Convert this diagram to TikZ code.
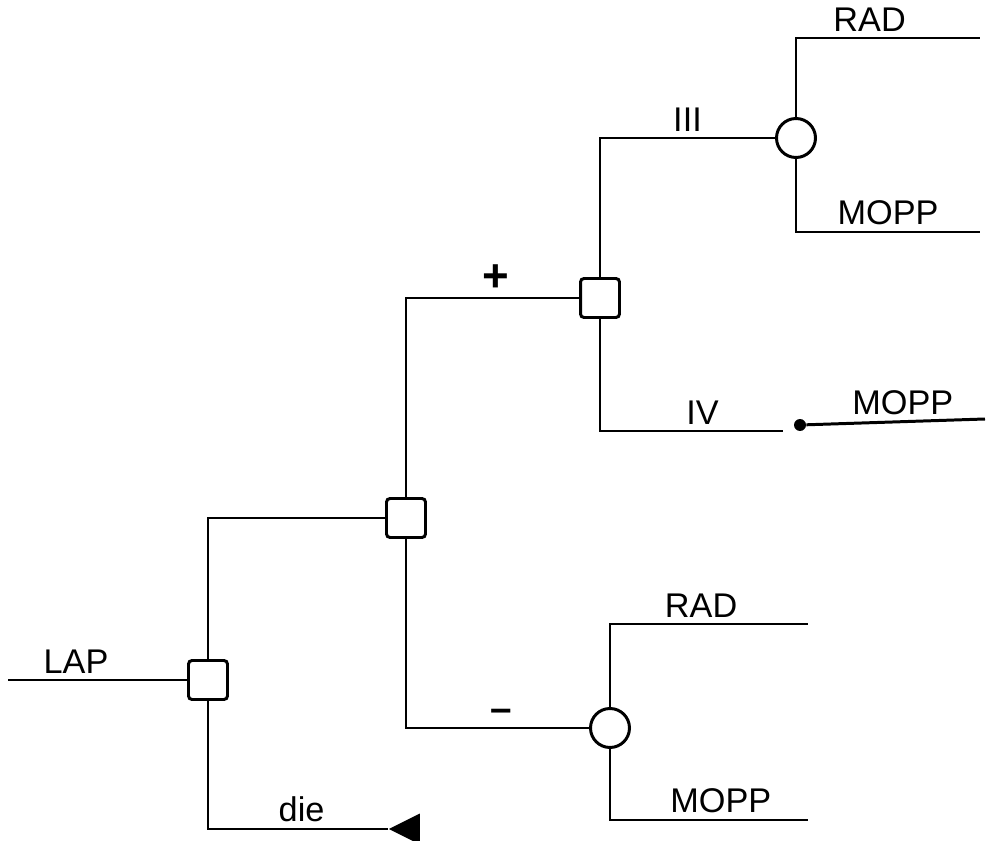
\documentclass[tikz,border=0pt]{standalone}
\usepackage{fontspec}
\setmainfont{Liberation Sans}
\usetikzlibrary{shapes.geometric}
\tikzset{
  dec/.style={draw, rectangle, rounded corners=2pt, minimum size=0.78cm, inner sep=0pt,
              line width=1.7pt, fill=white},
  chance/.style={draw, circle, minimum size=0.78cm, inner sep=0pt, line width=1.7pt, fill=white},
  term/.style={isosceles triangle, shape border rotate=180, isosceles triangle stretches,
               fill=black, inner sep=0pt, minimum width=0.62cm, minimum height=0.62cm},
  blob/.style={circle, fill=black, inner sep=0pt, minimum size=0.24cm},
  lbl/.style={font=\fontsize{19.5}{22}\selectfont, inner sep=3pt, above},
  br/.style={line width=1.7pt},
}
\begin{document}
\begin{tikzpicture}[x=0.02cm, y=-0.02cm]
  \useasboundingbox (0,0) rectangle (995,841);
  \node[dec] (d1) at (208,680) {};
  \node[dec] (d2) at (406,518) {};
  \node[dec] (d3) at (600,298) {};
  \node[chance] (c1) at (796,138) {};
  \node[chance] (c2) at (610,728) {};
  \node[term, anchor=apex] (t1) at (388,829) {};
  \node[blob] (b1) at (800,425) {};
  \coordinate (lap) at (8,680);
  \coordinate (r1) at (980,38);
  \coordinate (m1) at (980,232);
  \coordinate (iv) at (783,431);
  \coordinate (m2) at (985,419);
  \coordinate (r2) at (808,624);
  \coordinate (m3) at (808,820);

  \draw[br] (lap) -- node[lbl, pos=0.38] {LAP} (d1);
  \draw[br] (d1) |- (d2);
  \draw[br] (d1) |- node[lbl, pos=0.76] {die} (t1);
  \draw[br] (d2) |- node[lbl, pos=0.76, font=\fontsize{26}{28}\selectfont\bfseries] {+} (d3);
  \draw[br] (d2) |- node[lbl, pos=0.76, font=\fontsize{22}{24}\selectfont\bfseries] {--} (c2);
  \draw[br] (d3) |- node[lbl, pos=0.75] {III} (c1);
  \draw[br] (d3) |- node[lbl, pos=0.78] {IV} (iv);
  \draw[br] (b1) -- node[lbl, pos=0.54] {MOPP} (m2);
  \draw[br] (c1) |- node[lbl, pos=0.7] {RAD} (r1);
  \draw[br] (c1) |- node[lbl, pos=0.75] {MOPP} (m1);
  \draw[br] (c2) |- node[lbl, pos=0.73] {RAD} (r2);
  \draw[br] (c2) |- node[lbl, pos=0.78] {MOPP} (m3);
\end{tikzpicture}
\end{document}
